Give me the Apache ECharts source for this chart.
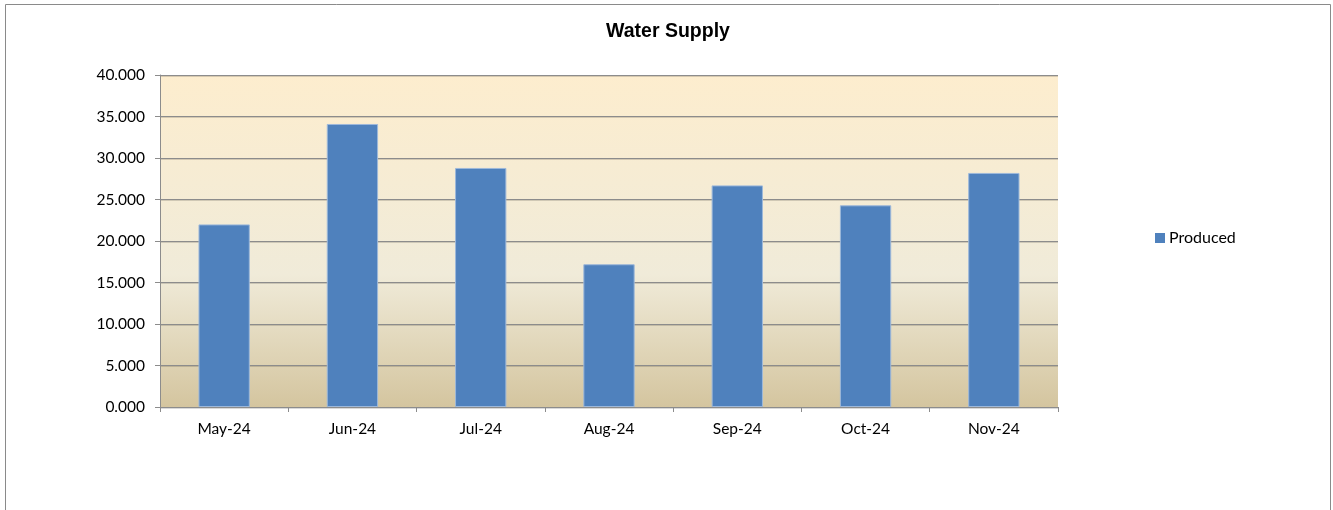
<!DOCTYPE html>
<html><head><meta charset="utf-8">
<script src="https://cdn.jsdelivr.net/npm/echarts@6/dist/echarts.min.js"></script>
<style>html,body{margin:0;padding:0;background:#fff}#c{width:1333px;height:510px}</style>
</head><body><div id="c"></div>
<script>
const categories = ['May-24','Jun-24','Jul-24','Aug-24','Sep-24','Oct-24','Nov-24'];
const produced = [22.0, 34.1, 28.8, 17.2, 26.7, 24.3, 28.2];
const seriesName = 'Produced';
const chartTitle = 'Water Supply';

const chart = echarts.init(document.getElementById('c'));
const font = 'Lato, "Open Sans", sans-serif';
chart.setOption({
  animation: false,
  title: {text: chartTitle, left: 668, top: 22, textAlign: 'center', padding: 0,
    textStyle: {fontFamily: '"Liberation Sans", Arial, sans-serif', fontSize: 19.5, fontWeight: 'bold', color: '#000'}},
  graphic: [{type: 'rect', shape: {x: 5.5, y: 4.5, width: 1325, height: 520},
    style: {fill: 'none', stroke: '#8a8a8a', lineWidth: 1}, silent: true}],
  legend: {show: true, left: 1155, top: 230, padding: 0, itemWidth: 10, itemHeight: 10, itemGap: 4,
    icon: 'rect', itemStyle: {borderWidth: 0},
    textStyle: {fontFamily: font, fontSize: 16, color: '#000', padding: [0,0,0,-1]}},
  grid: {left: 160, right: 275, top: 75, bottom: 103, show: true, borderWidth: 0,
    backgroundColor: {type: 'linear', x: 0, y: 0, x2: 0, y2: 1, colorStops: [
      {offset: 0, color: '#FDEDCE'}, {offset: 0.6, color: '#F0EBD9'}, {offset: 1, color: '#D4C59F'}]}},
  xAxis: {type: 'category', data: categories, boundaryGap: true,
    axisLine: {lineStyle: {color: '#8c8c8c', width: 1}},
    axisTick: {show: true, length: 5, alignWithLabel: false, lineStyle: {color: '#8c8c8c'}},
    axisLabel: {fontFamily: font, fontSize: 15.5, color: '#000', margin: 14}},
  yAxis: {type: 'value', min: 0, max: 40, interval: 5,
    axisLine: {show: true, lineStyle: {color: '#8c8c8c', width: 1}},
    axisTick: {show: true, length: 5, lineStyle: {color: '#8c8c8c'}},
    axisLabel: {fontFamily: font, fontSize: 15.5, color: '#000', margin: 15,
      formatter: v => v.toFixed(3)},
    splitLine: {show: true, lineStyle: {color: '#8c8c8c', width: 1,
      shadowColor: 'rgba(0,0,0,0.15)', shadowOffsetY: 1, shadowBlur: 0}}},
  series: [{name: seriesName, type: 'bar', data: produced, barWidth: '40%',
    itemStyle: {color: '#4F81BD', borderColor: '#9DB8DA', borderWidth: 1}}]
});
</script></body></html>
